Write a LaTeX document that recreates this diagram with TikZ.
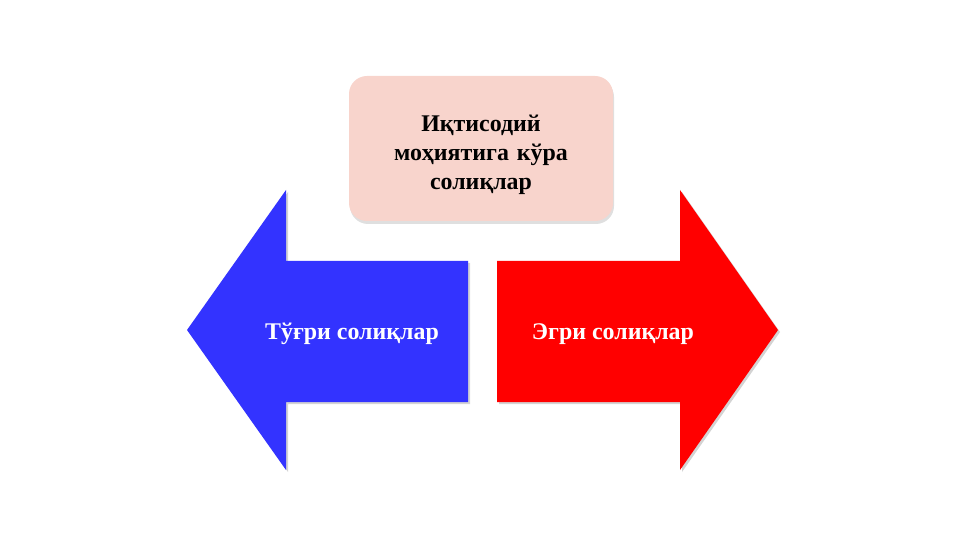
\documentclass[tikz,border=0pt]{standalone}
\usepackage{fontspec}
\setmainfont{Liberation Serif}
\usetikzlibrary{positioning, shadows}
\definecolor{boxpink}{RGB}{248,212,204}
\definecolor{arrowblue}{RGB}{51,51,255}
\definecolor{arrowred}{RGB}{255,0,0}
\tikzset{
	topic/.style={rectangle, rounded corners=18bp, fill=boxpink, minimum width=264bp, minimum height=145bp, drop shadow={opacity=0.25, shadow xshift=1bp, shadow yshift=-3bp}},
	topictext/.style={text width=240bp, align=center, font=\bfseries\fontsize{24}{29}\selectfont},
	bigarrow/.style={drop shadow={opacity=0.35, shadow xshift=2bp, shadow yshift=-2bp}},
	arrowtext/.style={text=white, font=\bfseries\fontsize{24}{29}\selectfont},
}

\begin{document}
\begin{tikzpicture}[x=1bp, y=-1bp]
	\useasboundingbox (0,0) rectangle (961,540);
	
	\node (topic) [topic] at (481,148.5) {};
	\node (topicname) [topictext] at (481,154.5) {Иқтисодий\\моҳиятига кўра\\солиқлар};
	
	% left and right arrows
	\fill [arrowblue, bigarrow] (187,330) -- (286,190) -- (286,261) -- (468,261) -- (468,402) -- (286,402) -- (286,470) -- cycle;
	\fill [arrowred, bigarrow] (778,330) -- (680,190) -- (680,261) -- (497,261) -- (497,402) -- (680,402) -- (680,470) -- cycle;
	
	\node (direct) [arrowtext] at (352,334) {Тўғри солиқлар};
	\node (indirect) [arrowtext] at (613,334) {Эгри солиқлар};
\end{tikzpicture}
\end{document}
